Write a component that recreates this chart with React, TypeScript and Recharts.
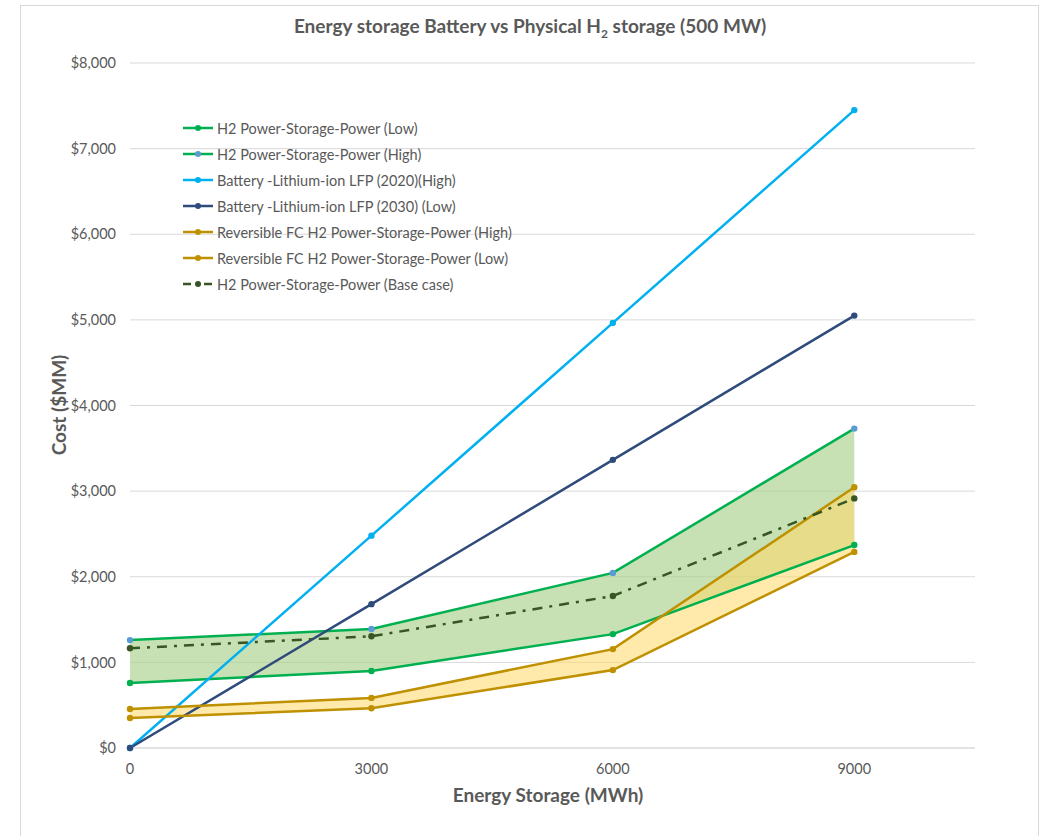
import { ComposedChart, Area, Line, CartesianGrid, XAxis, YAxis } from "recharts"

const storage = [0, 3000, 6000, 9000]
const h2Low = [760, 900, 1330, 2370]
const h2High = [1260, 1390, 2045, 3730]
const battery2020 = [0, 2480, 4965, 7450]
const battery2030 = [0, 1680, 3365, 5050]
const rfcHigh = [455, 585, 1155, 3045]
const rfcLow = [350, 465, 910, 2290]
const baseCase = [1165, 1305, 1775, 2915]

const xTicks = [0, 3000, 6000, 9000]
const yTicks = [0, 1000, 2000, 3000, 4000, 5000, 6000, 7000, 8000]

const data = storage.map((x, i) => ({
  x,
  h2Low: h2Low[i],
  h2High: h2High[i],
  battery2020: battery2020[i],
  battery2030: battery2030[i],
  rfcHigh: rfcHigh[i],
  rfcLow: rfcLow[i],
  baseCase: baseCase[i],
  h2Band: [h2Low[i], h2High[i]],
  rfcBand: [rfcLow[i], rfcHigh[i]],
}))

const GREY = "#595959"
const FONT = "Lato, 'Open Sans', sans-serif"

const legendItems = [
  { name: "H2 Power-Storage-Power (Low)", line: "#00B050", dot: "#00B050" },
  { name: "H2 Power-Storage-Power (High)", line: "#00B050", dot: "#5B9BD5" },
  { name: "Battery -Lithium-ion LFP (2020)(High)", line: "#00B0F0", dot: "#00B0F0" },
  { name: "Battery -Lithium-ion LFP (2030) (Low)", line: "#2F4B7C", dot: "#2F4B7C" },
  { name: "Reversible FC H2 Power-Storage-Power (High)", line: "#BF9000", dot: "#BF9000" },
  { name: "Reversible FC H2 Power-Storage-Power (Low)", line: "#BF9000", dot: "#BF9000" },
  { name: "H2 Power-Storage-Power (Base case)", line: "#375623", dot: "#375623", dashed: true },
]

function ChartLegend() {
  return (
    <div style={{ position: "absolute", left: 183, top: 115, fontFamily: FONT, fontSize: 14.5, color: GREY }}>
      {legendItems.map((item) => (
        <div key={item.name} style={{ display: "flex", alignItems: "center", height: 26 }}>
          <svg width={32} height={10} style={{ marginRight: 2 }}>
            <line
              x1={0}
              x2={30}
              y1={5}
              y2={5}
              stroke={item.line}
              strokeWidth={2.5}
              strokeDasharray={item.dashed ? "8 5 3 5" : undefined}
            />
            <circle cx={15} cy={5} r={3} fill={item.dot} />
          </svg>
          <span>{item.name}</span>
        </div>
      ))}
    </div>
  )
}

function App() {
  const dot = (c: string) => ({ r: 3.2, fill: c, stroke: c, strokeWidth: 0 })
  return (
    <div style={{ position: "absolute", left: 0, top: 0, width: 1043, height: 836, background: "#fff" }}>
      <div
        style={{
          position: "absolute",
          left: 20,
          top: 5,
          width: 1019,
          height: 831,
          boxSizing: "border-box",
          borderTop: "1px solid #D9D9D9",
          borderLeft: "1px solid #D9D9D9",
          borderRight: "1px solid #D9D9D9",
        }}
      />
      <div
        style={{
          position: "absolute",
          left: 0,
          width: 1060,
          top: 14,
          textAlign: "center",
          fontFamily: FONT,
          fontWeight: 700,
          fontSize: 19,
          color: GREY,
        }}
      >
        Energy storage Battery vs Physical H<sub style={{ fontSize: 12 }}>2</sub> storage (500 MW)
      </div>
      <div style={{ position: "absolute", left: 0, top: 0 }}>
        <ComposedChart width={1043} height={836} data={data} margin={{ top: 63, right: 68, bottom: 0, left: 60 }}>
          <CartesianGrid vertical={false} stroke="#D9D9D9" />
          <XAxis
            dataKey="x"
            type="number"
            domain={[0, 10500]}
            ticks={xTicks}
            height={88}
            axisLine={{ stroke: "#D9D9D9" }}
            tickLine={false}
            tickMargin={10}
            tick={{ fill: GREY, fontSize: 14.5, fontFamily: FONT }}
          />
          <YAxis
            type="number"
            domain={[0, 8000]}
            ticks={yTicks}
            width={70}
            axisLine={false}
            tickLine={false}
            tickMargin={8}
            tickFormatter={(v: number) => "$" + v.toLocaleString("en-US")}
            tick={{ fill: GREY, fontSize: 14.5, fontFamily: FONT }}
          />
          <Area
            type="linear"
            dataKey="h2Band"
            stroke="none"
            fill="#A9D18E"
            fillOpacity={0.65}
            isAnimationActive={false}
            activeDot={false}
          />
          <Area
            type="linear"
            dataKey="rfcBand"
            stroke="none"
            fill="#FFD966"
            fillOpacity={0.55}
            isAnimationActive={false}
            activeDot={false}
          />
          <Line type="linear" dataKey="h2Low" stroke="#00B050" strokeWidth={2.5} dot={dot("#00B050")} isAnimationActive={false} />
          <Line type="linear" dataKey="h2High" stroke="#00B050" strokeWidth={2.5} dot={dot("#5B9BD5")} isAnimationActive={false} />
          <Line type="linear" dataKey="battery2020" stroke="#00B0F0" strokeWidth={2.5} dot={dot("#00B0F0")} isAnimationActive={false} />
          <Line type="linear" dataKey="battery2030" stroke="#2F4B7C" strokeWidth={2.5} dot={dot("#2F4B7C")} isAnimationActive={false} />
          <Line type="linear" dataKey="rfcHigh" stroke="#BF9000" strokeWidth={2.5} dot={dot("#BF9000")} isAnimationActive={false} />
          <Line type="linear" dataKey="rfcLow" stroke="#BF9000" strokeWidth={2.5} dot={dot("#BF9000")} isAnimationActive={false} />
          <Line
            type="linear"
            dataKey="baseCase"
            stroke="#375623"
            strokeWidth={2.5}
            strokeDasharray="10 7 3 7"
            dot={dot("#375623")}
            isAnimationActive={false}
          />
        </ComposedChart>
      </div>
      <ChartLegend />
      <div
        style={{
          position: "absolute",
          left: 58,
          top: 405,
          transform: "translate(-50%, -50%) rotate(-90deg)",
          whiteSpace: "nowrap",
          fontFamily: FONT,
          fontWeight: 700,
          fontSize: 19,
          color: GREY,
        }}
      >
        Cost ($MM)
      </div>
      <div
        style={{
          position: "absolute",
          left: 0,
          width: 1096,
          top: 783,
          textAlign: "center",
          fontFamily: FONT,
          fontWeight: 700,
          fontSize: 19,
          color: GREY,
        }}
      >
        Energy Storage (MWh)
      </div>
    </div>
  )
}

export default App
